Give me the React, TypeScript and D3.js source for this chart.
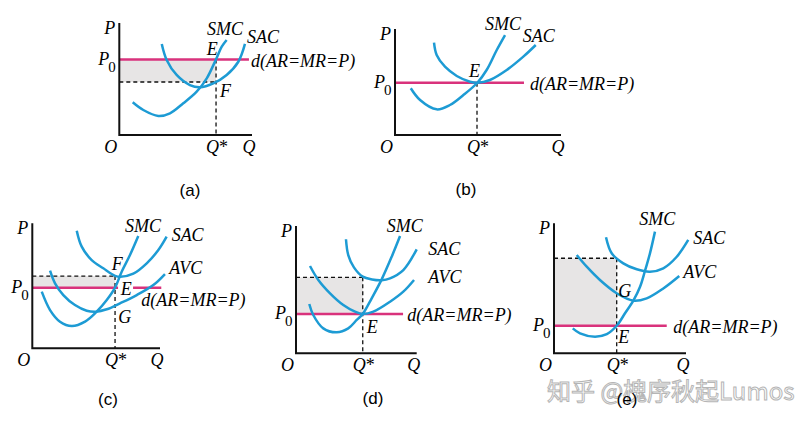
import React from 'react';
import * as d3 from 'd3';

type Pt = [number, number];

// ---------- data (unit coordinates: Q 0–10, P 0–10 within each panel) ----------
const smcA: Pt[] = [[1.01,2.92],[1.81,2.23],[2.94,1.70],[3.82,1.94],[4.82,2.83],[5.83,3.87],[6.59,5.06],[7.29,6.76],[7.72,7.88],[8.09,8.48]];
const sacA: Pt[] = [[3.20,8.13],[3.57,6.70],[4.32,5.36],[5.32,4.46],[6.08,4.26],[7.08,4.61],[8.09,5.36],[8.97,6.54],[9.47,8.13]];

const smcB: Pt[] = [[0.95,4.41],[1.51,3.30],[2.51,2.42],[3.31,2.83],[4.12,3.77],[4.96,4.93],[5.52,6.13],[6.13,8.02],[6.63,9.43]];
const sacB: Pt[] = [[2.35,8.71],[2.51,7.55],[3.01,6.44],[3.72,5.57],[4.52,5.03],[4.96,4.93],[5.72,5.19],[6.73,6.13],[7.73,7.39],[8.48,8.49]];

const smcC: Pt[] = [[0.74,4.53],[1.39,3.06],[2.17,2.13],[3.09,1.78],[4.13,2.13],[5.04,2.93],[5.83,3.86],[6.48,4.85],[7.00,6.13],[7.65,7.46],[8.30,8.98]];
const sacC: Pt[] = [[3.48,9.41],[3.87,8.13],[4.65,7.06],[5.56,6.40],[6.48,5.80],[6.90,5.72],[7.91,5.97],[8.96,6.80],[9.87,7.86],[10.52,8.93]];
const avcC: Pt[] = [[1.39,6.21],[1.78,5.20],[2.43,4.26],[3.34,3.46],[4.26,3.01],[5.00,2.93],[5.83,3.12],[6.87,3.60],[8.18,4.26],[9.48,5.06],[10.39,5.94]];

const smcD: Pt[] = [[1.10,3.87],[1.43,3.01],[2.26,1.96],[3.37,1.65],[4.33,1.96],[5.03,2.62],[5.53,3.09],[6.27,4.32],[7.10,5.81],[7.93,7.59],[8.62,9.21]];
const sacD: Pt[] = [[4.14,8.96],[4.33,7.72],[4.80,6.75],[5.53,6.02],[6.30,5.80],[7.10,5.74],[7.79,5.89],[8.89,6.54],[10.0,8.17]];
const avcD: Pt[] = [[1.16,6.86],[1.85,5.76],[2.82,4.71],[3.92,3.79],[4.89,3.27],[5.53,3.09],[6.41,3.27],[7.79,4.05],[8.89,4.84],[9.78,5.76]];

const smcE: Pt[] = [[1.42,1.92],[1.97,1.54],[3.11,1.28],[4.00,1.48],[4.75,2.12],[5.38,3.08],[6.01,4.05],[6.52,5.12],[6.89,6.33],[7.27,7.69],[7.65,9.36]];
const sacE: Pt[] = [[3.94,8.92],[4.37,7.69],[5.25,6.92],[6.27,6.46],[7.27,6.28],[8.28,6.54],[9.30,7.43],[10.17,8.72]];
const avcE: Pt[] = [[1.72,7.56],[2.48,6.66],[3.48,5.64],[4.75,4.62],[6.01,4.05],[7.02,4.23],[8.28,4.99],[9.49,5.95]];

const priceP0 = [6.74, 4.93, 4.85, 3.09, 2.12];
const costAtQ: (number | null)[] = [4.73, null, 5.78, 5.97, 7.31];
const qStar = [7.29, 4.94, 6.48, 5.53, 4.75];
const demandEnd = [9.77, 7.77, 10.1, 8.87, 8.54];
const captions = ['(a)', '(b)', '(c)', '(d)', '(e)'];
const demandLabel = 'd(AR=MR=P)';
const watermark = '知乎 @槐序秋起Lumos';

// ---------- layout ----------
const BLUE = '#1d9bd4';
const PINK = '#d9327c';
const SHADE = '#e7e5e5';
const SERIF = '"Liberation Serif", "DejaVu Serif", serif';
const SANS = '"Liberation Sans", Arial, sans-serif';

const boxes = [
  { x0: 119.3, x1: 252, yB: 135, yT: 23 },
  { x0: 395, x1: 561, yB: 135, yT: 29 },
  { x0: 32.3, x1: 160, yB: 348.3, yT: 223.3 },
  { x0: 296, x1: 416.7, yB: 353.3, yT: 226 },
  { x0: 554, x1: 686, yB: 353.3, yT: 223.3 },
];

const curveSets = [
  [{ name: 'SMC', pts: smcA, dx: -19.7, dy: -5 }, { name: 'SAC', pts: sacA, dx: 2, dy: -1.3 }],
  [{ name: 'SMC', pts: smcB, dx: -20, dy: -5 }, { name: 'SAC', pts: sacB, dx: -13, dy: -3.3 }],
  [{ name: 'SMC', pts: smcC, dx: -13.3, dy: -4.3 }, { name: 'SAC', pts: sacC, dx: 5, dy: 4 }, { name: 'AVC', pts: avcC, dx: 4.3, dy: 0 }],
  [{ name: 'SMC', pts: smcD, dx: -13.3, dy: -4.3 }, { name: 'SAC', pts: sacD, dx: 11.6, dy: 5.7 }, { name: 'AVC', pts: avcD, dx: 14.3, dy: 3.3 }],
  [{ name: 'SMC', pts: smcE, dx: -15.7, dy: -6.7 }, { name: 'SAC', pts: sacE, dx: 5, dy: 4 }, { name: 'AVC', pts: avcE, dx: 4, dy: 2.3 }],
];

const pointLabels: { text: string; at: 'p0' | 'cost'; dx: number; dy: number; bg?: boolean }[][] = [
  [{ text: 'E', at: 'p0', dx: -9.3, dy: -4.5 }, { text: 'F', at: 'cost', dx: 4, dy: 14.7 }],
  [{ text: 'E', at: 'p0', dx: -8, dy: -6 }],
  [{ text: 'F', at: 'cost', dx: -3.3, dy: -6 }, { text: 'E', at: 'p0', dx: 5.7, dy: 7.3, bg: true }, { text: 'G', at: 'p0', dx: 3.3, dy: 35 }],
  [{ text: 'E', at: 'p0', dx: 4, dy: 19.3 }],
  [{ text: 'G', at: 'p0', dx: 1.6, dy: -29 }, { text: 'E', at: 'p0', dx: 1.6, dy: 17.6 }],
];

const dLabelOffsets = [[2, 7.5], [6, 7], [-20, 18.6], [4.3, 6.7], [6.6, 7]];
const captionPos = [[190, 196], [466, 195], [108, 405], [373, 404], [627, 405]];

function Panel({ i }: { i: number }) {
  const b = boxes[i];
  const x = d3.scaleLinear().domain([0, 10]).range([b.x0, b.x1]);
  const y = d3.scaleLinear().domain([0, 10]).range([b.yB, b.yT]);
  const line = d3.line<Pt>().x(d => x(d[0])).y(d => y(d[1])).curve(d3.curveCatmullRom.alpha(0.5));
  const p0 = priceP0[i];
  const cost = costAtQ[i];
  const qs = qStar[i];
  const top = cost == null ? p0 : Math.max(p0, cost);
  const italic = { fontFamily: SERIF, fontStyle: 'italic' as const, fontSize: 18 };

  return (
    <g>
      {cost != null && (
        <rect x={x(0)} y={y(Math.max(p0, cost))} width={x(qs) - x(0)} height={Math.abs(y(p0) - y(cost))} fill={SHADE} />
      )}
      {cost != null && (
        <line x1={x(0)} x2={x(qs)} y1={y(cost)} y2={y(cost)} stroke="#111" strokeWidth={1.3} strokeDasharray="4,3" />
      )}
      <line x1={x(qs)} x2={x(qs)} y1={y(top)} y2={y(0)} stroke="#111" strokeWidth={1.3} strokeDasharray="4,3" />
      <line x1={x(0)} x2={x(demandEnd[i])} y1={y(p0)} y2={y(p0)} stroke={PINK} strokeWidth={2.5} />
      {pointLabels[i].filter(l => l.bg).map((l, k) => (
        <rect key={k} x={x(qs) + 3} y={y(p0) - 3} width={15} height={6} fill="#fff" />
      ))}
      {curveSets[i].map(c => (
        <path key={c.name} d={line(c.pts) || ''} fill="none" stroke={BLUE} strokeWidth={2.5} />
      ))}
      <path d={`M${x(0)},${y(10)}L${x(0)},${y(0)}L${x(10)},${y(0)}`} fill="none" stroke="#111" strokeWidth={2} />
      {curveSets[i].map(c => {
        const end = c.pts[c.pts.length - 1];
        return (
          <text key={c.name + 't'} x={x(end[0]) + c.dx} y={y(end[1]) + c.dy} {...italic}>{c.name}</text>
        );
      })}
      {pointLabels[i].map((l, k) => {
        const py = l.at === 'p0' ? p0 : (cost as number);
        return <text key={k} x={x(qs) + l.dx} y={y(py) + l.dy} {...italic}>{l.text}</text>;
      })}
      <text x={x(demandEnd[i]) + dLabelOffsets[i][0]} y={y(p0) + dLabelOffsets[i][1]} {...italic}>{demandLabel}</text>
      {/* axis labels */}
      <text x={x(0) - 4} y={y(10) + 11} textAnchor="end" {...italic}>P</text>
      <text x={x(0) - 21} y={y(p0) + 5} {...italic}>P</text>
      <text x={x(0) - 11} y={y(p0) + 12} fontFamily={SERIF} fontSize={15}>0</text>
      <text x={x(0) - 2} y={y(0) + 18} textAnchor="end" {...italic}>O</text>
      <text x={x(qs) + 1} y={y(0) + 18} textAnchor="middle" fontFamily={SERIF} fontSize={18}>
        <tspan fontStyle="italic">Q</tspan><tspan>*</tspan>
      </text>
      <text x={x(10) - 3} y={y(0) + 18} textAnchor="middle" {...italic}>Q</text>
      <text x={captionPos[i][0]} y={captionPos[i][1]} textAnchor="middle" fontFamily={SANS} fontSize={17}>{captions[i]}</text>
    </g>
  );
}

export default function App() {
  return (
    <svg width={810} height={424} style={{ position: 'absolute', left: 0, top: 0, background: '#fff' }}>
      <rect width={810} height={424} fill="#fff" />
      <text x={547} y={400} fontFamily='"Noto Sans CJK SC", sans-serif' fontSize={24} fill="#fff" stroke="#b5b5b5" strokeWidth={1}>{watermark}</text>
      {captions.map((_, i) => <Panel key={i} i={i} />)}
    </svg>
  );
}
